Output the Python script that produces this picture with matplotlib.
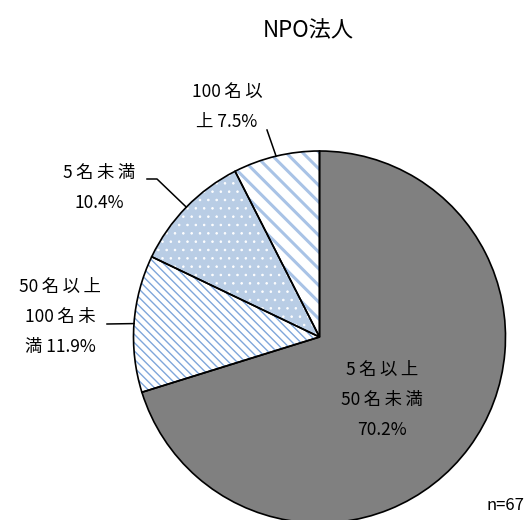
import matplotlib
matplotlib.use("Agg")
import matplotlib.pyplot as plt
import numpy as np

plt.rcParams['font.family'] = ['Noto Sans CJK JP', 'DejaVu Sans']

title = "NPO法人"
categories = ["5名以上\n50名未満", "50名以上\n100名未\n満", "5名未満", "100名以\n上"]
shares = [70.2, 11.9, 10.4, 7.5]
n_total = 67

faces = ["#808080", "white", "#B9CDE5", "white"]
hatch_colors = ["#808080", "#7FA6DA", "white", "#A9C3E6"]
hatches = [None, "\\\\\\\\", "..", "\\\\"]
hatch_lws = [1.0, 1.0, 0.6, 2.2]

W, H = 530, 520
fig = plt.figure(figsize=(W / 100, H / 100), dpi=100)
ax = fig.add_axes([0, 0, 1, 1])

cx, cy, r = 319.5, H - 337, 186

# filled / hatched slices
wedges, _ = ax.pie(shares, startangle=90, counterclock=False,
                   center=(cx, cy), radius=r, frame=True)
for w, fc, hc, h, hlw in zip(wedges, faces, hatch_colors, hatches, hatch_lws):
    w.set_facecolor(fc)
    w.set_edgecolor(hc)
    w.set_linewidth(0)
    if h:
        w.set_hatch(h)
        if hasattr(w, "set_hatch_linewidth"):
            w.set_hatch_linewidth(hlw)

# black outlines on top
ax.pie(shares, startangle=90, counterclock=False,
       center=(cx, cy), radius=r, frame=True,
       wedgeprops=dict(fill=False, edgecolor="black", linewidth=1.2))
ax.set_xlim(0, W)
ax.set_ylim(0, H)
ax.set_aspect("equal")
ax.axis("off")

# mid angle of each slice (degrees, counterclockwise from +x)
bounds = 90 - 3.6 * np.concatenate([[0], np.cumsum(shares)])
mids = (bounds[:-1] + bounds[1:]) / 2


def edge(i):
    a = np.deg2rad(mids[i])
    return cx + r * np.cos(a), cy + r * np.sin(a)


def top(y):
    return H - y


def spaced(s, gap="\u2009"):
    # loosen the tracking around CJK characters
    out = ""
    for a, b in zip(s, s[1:] + " "):
        out += a
        if a not in " \n" and b not in " \n" and (ord(a) > 0x2E80 or ord(b) > 0x2E80):
            out += gap
    return out


fs = 12.5
ls = 1.85
ax.text(308, top(31), title, ha="center", va="center", fontsize=16)

# inside label for the big slice
ax.text(382, top(400), spaced(f"{categories[0]}\n{shares[0]}%"), ha="center",
        va="center", fontsize=fs, linespacing=ls)

# 50名以上100名未満
ax.text(60, top(317), spaced(f"{categories[1]} {shares[1]}%"), ha="center",
        va="center", fontsize=fs, linespacing=ls)
ex, ey = edge(1)
ax.plot([107, ex], [top(324), ey], color="black", lw=1.1)

# 5名未満
ax.text(99, top(188), spaced(f"{categories[2]}\n{shares[2]}%"), ha="center",
        va="center", fontsize=fs, linespacing=ls)
ex, ey = edge(2)
ax.plot([147, 157, ex], [top(179), top(179), ey], color="black", lw=1.1)

# 100名以上
ax.text(227, top(107), spaced(f"{categories[3]} {shares[3]}%"), ha="center",
        va="center", fontsize=fs, linespacing=ls)
ex, ey = edge(3)
ax.plot([267, ex], [top(130), ey], color="black", lw=1.1)

ax.text(524, top(505), f"n={n_total}", ha="right", va="center", fontsize=12)

fig.savefig("out.png", dpi=100)
